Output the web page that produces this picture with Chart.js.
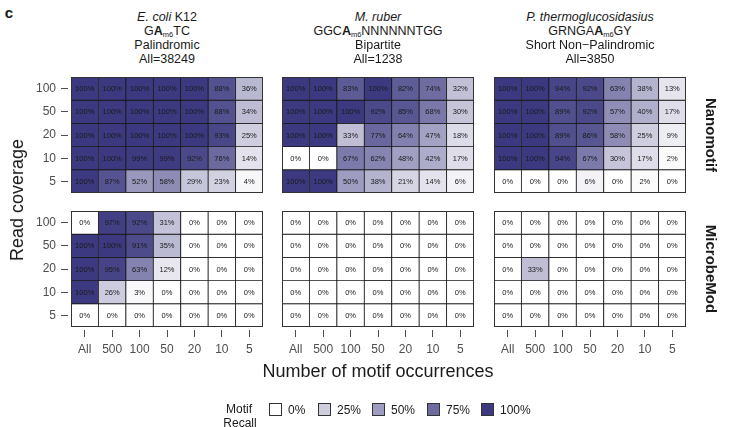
<!DOCTYPE html>
<html>
<head>
<meta charset="utf-8">
<script src="https://cdn.jsdelivr.net/npm/chart.js@4.4.1/dist/chart.umd.min.js"></script>
<style>
  html, body { margin: 0; padding: 0; background: #fff; }
  #root { position: relative; width: 730px; height: 427px; overflow: hidden;
          font-family: "Liberation Sans", Arial, Helvetica, sans-serif; color: #1a1a1a; }
  #root canvas { position: absolute; }
  .t { position: absolute; white-space: nowrap; line-height: 1; transform: translate(-50%, -50%); }
  .sub { font-size: 7.5px; position: relative; top: 2px; }
  .sw { position: absolute; width: 13px; height: 13px; box-sizing: border-box; border: 1px solid #333; }
</style>
</head>
<body>
<div id="root"></div>
<script>
// Axis categories
const occurrences = ['All', '500', '100', '50', '20', '10', '5'];
const coverages = ['100', '50', '20', '10', '5'];
const legendSteps = [0, 25, 50, 75, 100];

// Motif recall (%) — rows: read coverage 100, 50, 20, 10, 5; columns: occurrences
const ecoliNanomotif = [
  [100, 100, 100, 100, 100, 88, 36],
  [100, 100, 100, 100, 100, 88, 34],
  [100, 100, 100, 100, 100, 93, 25],
  [100, 100, 99, 99, 92, 76, 14],
  [100, 87, 52, 58, 29, 23, 4]
];
const ruberNanomotif = [
  [100, 100, 83, 100, 82, 74, 32],
  [100, 100, 100, 92, 85, 68, 30],
  [100, 100, 33, 77, 64, 47, 18],
  [0, 0, 67, 62, 48, 42, 17],
  [100, 100, 50, 38, 21, 14, 6]
];
const thermoNanomotif = [
  [100, 100, 94, 92, 63, 38, 13],
  [100, 100, 89, 92, 57, 40, 17],
  [100, 100, 89, 86, 58, 25, 9],
  [100, 100, 94, 67, 30, 17, 2],
  [0, 0, 0, 6, 0, 2, 0]
];
const ecoliMicrobeMod = [
  [0, 97, 92, 31, 0, 0, 0],
  [100, 100, 91, 35, 0, 0, 0],
  [100, 95, 63, 12, 0, 0, 0],
  [100, 26, 3, 0, 0, 0, 0],
  [0, 0, 0, 0, 0, 0, 0]
];
const ruberMicrobeMod = [
  [0, 0, 0, 0, 0, 0, 0],
  [0, 0, 0, 0, 0, 0, 0],
  [0, 0, 0, 0, 0, 0, 0],
  [0, 0, 0, 0, 0, 0, 0],
  [0, 0, 0, 0, 0, 0, 0]
];
const thermoMicrobeMod = [
  [0, 0, 0, 0, 0, 0, 0],
  [0, 0, 0, 0, 0, 0, 0],
  [0, 33, 0, 0, 0, 0, 0],
  [0, 0, 0, 0, 0, 0, 0],
  [0, 0, 0, 0, 0, 0, 0]
];

const FONT = '"Liberation Sans", Arial, Helvetica, sans-serif';
const root = document.getElementById('root');

// white -> navy fill scale
const LOW = [255, 255, 255], HIGH = [60, 57, 128];
function recallColor(v) {
  const t = v / 100;
  const c = LOW.map((l, i) => Math.round(l + (HIGH[i] - l) * t));
  return `rgb(${c[0]},${c[1]},${c[2]})`;
}

// percentage text in every tile plus a frame round the panel
const cellLabels = {
  id: 'cellLabels',
  afterDatasetsDraw(chart) {
    const ctx = chart.ctx;
    ctx.save();
    ctx.font = '7.5px ' + FONT;
    ctx.fillStyle = '#1a1a1a';
    ctx.textAlign = 'center';
    ctx.textBaseline = 'middle';
    chart.data.datasets.forEach((ds, i) => {
      chart.getDatasetMeta(i).data.forEach((el, j) => {
        const p = el.getProps(['x', 'y', 'base'], true);
        ctx.fillText(ds.recall[j] + '%', p.x, (p.y + p.base) / 2 + 0.5);
      });
    });
    const a = chart.chartArea;
    ctx.strokeStyle = '#333';
    ctx.lineWidth = 1;
    ctx.strokeRect(a.left + 0.5, a.top + 0.5, a.width - 1, a.height - 1);
    ctx.restore();
  }
};

const PLOT_W = 192, PLOT_H = 116;
const plotLeft = [71, 282, 494];
const plotTop = [77, 211];
const YW = 71, PAD = 3, XH = 42;

function makePanel(values, col, row) {
  const showY = col === 0, showX = row === 1;
  const cv = document.createElement('canvas');
  const w = YW + PLOT_W + PAD, h = PAD + PLOT_H + XH;
  cv.width = w; cv.height = h;
  cv.style.left = (plotLeft[col] - YW) + 'px';
  cv.style.top = (plotTop[row] - PAD) + 'px';
  cv.style.width = w + 'px';
  cv.style.height = h + 'px';
  root.appendChild(cv);

  const n = values.length;
  const datasets = values.map((rowVals, r) => ({
    data: rowVals.map(() => [n - 1 - r, n - r]),
    recall: rowVals,
    backgroundColor: rowVals.map(recallColor),
    borderColor: '#1a1a1a',
    borderWidth: 0.8,
    borderSkipped: false,
    grouped: false,
    barPercentage: 1,
    categoryPercentage: 1
  }));

  new Chart(cv, {
    type: 'bar',
    data: { labels: occurrences, datasets },
    options: {
      responsive: false,
      animation: false,
      devicePixelRatio: 1,
      events: [],
      layout: { padding: { top: PAD, right: PAD, left: 0, bottom: 0 } },
      plugins: { legend: { display: false }, tooltip: { enabled: false } },
      scales: {
        x: {
          type: 'category',
          offset: true,
          afterFit(s) { s.height = XH; s.paddingLeft = 0; s.paddingRight = 0; },
          border: { display: false },
          grid: {
            display: showX, offset: false, drawOnChartArea: false, drawTicks: showX,
            tickLength: 10, tickColor: '#4d4d4d', tickWidth: 1,
            tickBorderDash: [7, 3], tickBorderDashOffset: 7
          },
          ticks: {
            display: showX, color: '#4d4d4d', font: { size: 12, family: FONT },
            padding: 5, maxRotation: 0, autoSkip: false
          }
        },
        y: {
          type: 'linear',
          min: 0, max: n,
          afterFit(s) { s.width = YW; s.paddingTop = 0; s.paddingBottom = 0; },
          afterBuildTicks(s) {
            s.ticks = coverages.map((_, k) => ({ value: n - 0.5 - k }));
          },
          border: { display: false },
          grid: {
            display: showY, drawOnChartArea: false, drawTicks: showY,
            tickLength: 10, tickColor: '#4d4d4d', tickWidth: 1,
            tickBorderDash: [7, 3]
          },
          ticks: {
            display: showY, color: '#4d4d4d', font: { size: 12, family: FONT }, padding: 5,
            callback: (v) => coverages[Math.round(n - 0.5 - v)]
          }
        }
      }
    },
    plugins: [cellLabels]
  });
}

makePanel(ecoliNanomotif, 0, 0);
makePanel(ruberNanomotif, 1, 0);
makePanel(thermoNanomotif, 2, 0);
makePanel(ecoliMicrobeMod, 0, 1);
makePanel(ruberMicrobeMod, 1, 1);
makePanel(thermoMicrobeMod, 2, 1);

// text elements
function addText(html, x, y, style) {
  const d = document.createElement('div');
  d.className = 't';
  d.innerHTML = html;
  d.style.left = x + 'px';
  d.style.top = y + 'px';
  Object.assign(d.style, style || {});
  root.appendChild(d);
  return d;
}

addText('c', 9, 12, { fontSize: '15px', fontWeight: 'bold' });

const titles = [
  ['<i>E. coli</i> K12', 'G<b>A</b><span class="sub">m6</span>TC', 'Palindromic', 'All=38249'],
  ['<i>M. ruber</i>', 'GGC<b>A</b><span class="sub">m6</span>NNNNNNTGG', 'Bipartite', 'All=1238'],
  ['<i>P. thermoglucosidasius</i>', 'GRNGA<b>A</b><span class="sub">m6</span>GY', 'Short Non\u2212Palindromic', 'All=3850']
];
titles.forEach((lines, c) => {
  const cx = plotLeft[c] + PLOT_W / 2;
  lines.forEach((ln, k) => addText(ln, cx, 17 + 14 * k, { fontSize: '12.5px' }));
});

addText('Read coverage', 17, 200, { fontSize: '18px', transform: 'translate(-50%,-50%) rotate(-90deg)' });
addText('Number of motif occurrences', 378, 371, { fontSize: '18px' });
addText('Nanomotif', 711, plotTop[0] + PLOT_H / 2, { fontSize: '15px', fontWeight: 'bold', transform: 'translate(-50%,-50%) rotate(90deg)' });
addText('MicrobeMod', 711, plotTop[1] + PLOT_H / 2, { fontSize: '15px', fontWeight: 'bold', transform: 'translate(-50%,-50%) rotate(90deg)' });

// legend
addText('Motif', 239, 409, { fontSize: '12px' });
addText('Recall', 240, 423, { fontSize: '12px' });
const swLeft = [269, 318, 372, 427, 481];
legendSteps.forEach((v, k) => {
  const s = document.createElement('div');
  s.className = 'sw';
  s.style.left = swLeft[k] + 'px';
  s.style.top = '403px';
  s.style.background = recallColor(v);
  root.appendChild(s);
  addText(v + '%', swLeft[k] + 19, 410, { fontSize: '12px', transform: 'translate(0,-50%)' });
});
</script>
</body>
</html>
